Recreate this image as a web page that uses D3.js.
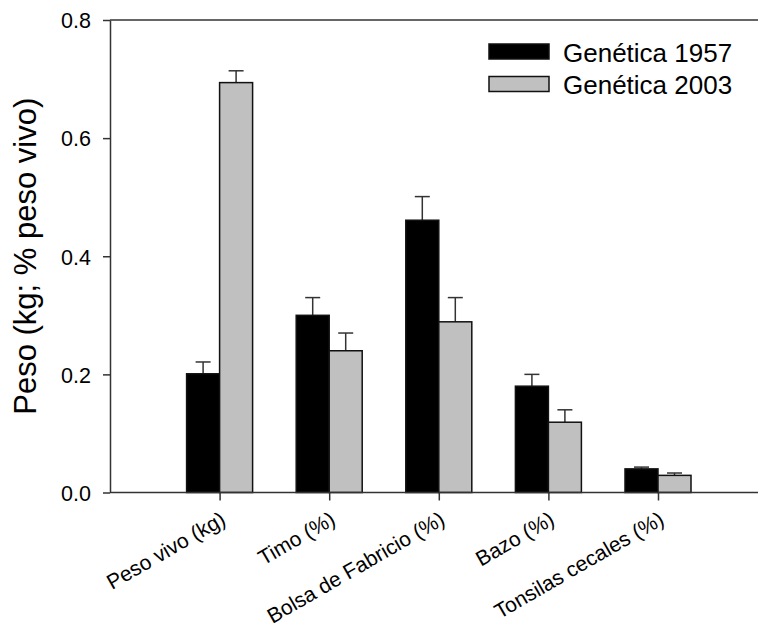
<!DOCTYPE html>
<html>
<head>
<meta charset="utf-8">
<script src="https://cdn.jsdelivr.net/npm/d3@7"></script>
<style>
  body { margin: 0; background: #fff; }
  svg { display: block; font-family: Arial, "Liberation Sans", sans-serif; }
  .axis path, .axis line { stroke: #333; stroke-width: 1.5; }
</style>
</head>
<body>
<svg id="chart" width="758" height="630"></svg>
<script>
// Data
var categories = ["Peso vivo (kg)", "Timo (%)", "Bolsa de Fabricio (%)", "Bazo (%)", "Tonsilas cecales (%)"];
var series = ["Genética 1957", "Genética 2003"];
var values1957 = [0.201, 0.300, 0.461, 0.180, 0.040];
var errors1957 = [0.020, 0.030, 0.040, 0.020, 0.003];
var values2003 = [0.694, 0.240, 0.289, 0.119, 0.029];
var errors2003 = [0.020, 0.030, 0.041, 0.021, 0.004];
var yTicks = [0, 0.2, 0.4, 0.6, 0.8];
var colors = ["#000000", "#c0c0c0"];

var svg = d3.select("#chart");
var W = 758;
var FONT = "Arial, 'Liberation Sans', sans-serif";

// x runs by category index; the frame continues past the right edge of the picture
var x = d3.scaleLinear().domain([0, 6]).range([110, 767.6]);
var y = d3.scaleLinear().domain([0, 0.8]).range([492.5, 20]);
var barW = 33;

var bars = [];
categories.forEach(function(c, i) {
  bars.push({cat: i, s: 0, v: values1957[i], e: errors1957[i]});
  bars.push({cat: i, s: 1, v: values2003[i], e: errors2003[i]});
});

// Error bars (drawn first so bar outline covers the stem base)
var eb = svg.append("g").attr("class", "errors")
  .selectAll("g").data(bars).enter().append("g")
  .attr("stroke", "#333").attr("stroke-width", 1.5);
eb.append("line")
  .attr("x1", d => x(d.cat + 1) + (d.s === 0 ? -barW / 2 : barW / 2))
  .attr("x2", d => x(d.cat + 1) + (d.s === 0 ? -barW / 2 : barW / 2))
  .attr("y1", d => y(d.v))
  .attr("y2", d => y(d.v + d.e));
eb.append("line")
  .attr("x1", d => x(d.cat + 1) + (d.s === 0 ? -barW / 2 : barW / 2) - 7.5)
  .attr("x2", d => x(d.cat + 1) + (d.s === 0 ? -barW / 2 : barW / 2) + 7.5)
  .attr("y1", d => y(d.v + d.e))
  .attr("y2", d => y(d.v + d.e));

// Bars
svg.append("g").attr("class", "bars")
  .selectAll("rect").data(bars).enter().append("rect")
  .attr("x", d => d.s === 0 ? x(d.cat + 1) - barW : x(d.cat + 1))
  .attr("y", d => y(d.v))
  .attr("width", barW)
  .attr("height", d => y(0) - y(d.v))
  .attr("fill", d => colors[d.s])
  .attr("stroke", "#111")
  .attr("stroke-width", 1.5);

// Y axis
var yAxis = svg.append("g").attr("class", "axis")
  .attr("transform", "translate(110,0)")
  .call(d3.axisLeft(y).tickValues(yTicks).tickFormat(d3.format(".1f")).tickSize(7).tickSizeOuter(0))
  .attr("font-family", FONT).attr("font-size", 21.5);
yAxis.selectAll("text").attr("x", -19).attr("dy", "0.36em").attr("fill", "#000");

// X axis
var xAxis = svg.append("g").attr("class", "axis")
  .attr("transform", "translate(0," + y(0) + ")")
  .call(d3.axisBottom(x).tickValues(d3.range(1, categories.length + 1))
    .tickFormat(d => categories[d - 1]).tickSize(8).tickSizeOuter(0))
  .attr("font-family", FONT).attr("font-size", 21);
xAxis.select(".domain").attr("d", "M110,0H" + W);
xAxis.selectAll("text")
  .attr("fill", "#000")
  .attr("text-anchor", "end")
  .attr("y", 0).attr("dy", 0)
  .attr("transform", "translate(7,31) rotate(-30)");

// Top frame line
svg.append("line")
  .attr("x1", 110).attr("x2", W)
  .attr("y1", y(0.8)).attr("y2", y(0.8))
  .attr("stroke", "#333").attr("stroke-width", 1.5);

// Y title
svg.append("text")
  .attr("transform", "translate(36," + (y(0.4)) + ") rotate(-90)")
  .attr("text-anchor", "middle")
  .attr("font-size", 31)
  .text("Peso (kg; % peso vivo)");

// Legend
var leg = svg.append("g").attr("class", "legend")
  .selectAll("g").data(series).enter().append("g")
  .attr("transform", (d, i) => "translate(489," + (44 + i * 32.5) + ")");
leg.append("rect")
  .attr("width", 60).attr("height", 15)
  .attr("fill", (d, i) => colors[i])
  .attr("stroke", "#111").attr("stroke-width", 1.5);
leg.append("text")
  .attr("x", 74).attr("y", 17.5)
  .attr("font-size", 26)
  .text(d => d);
</script>
</body>
</html>
